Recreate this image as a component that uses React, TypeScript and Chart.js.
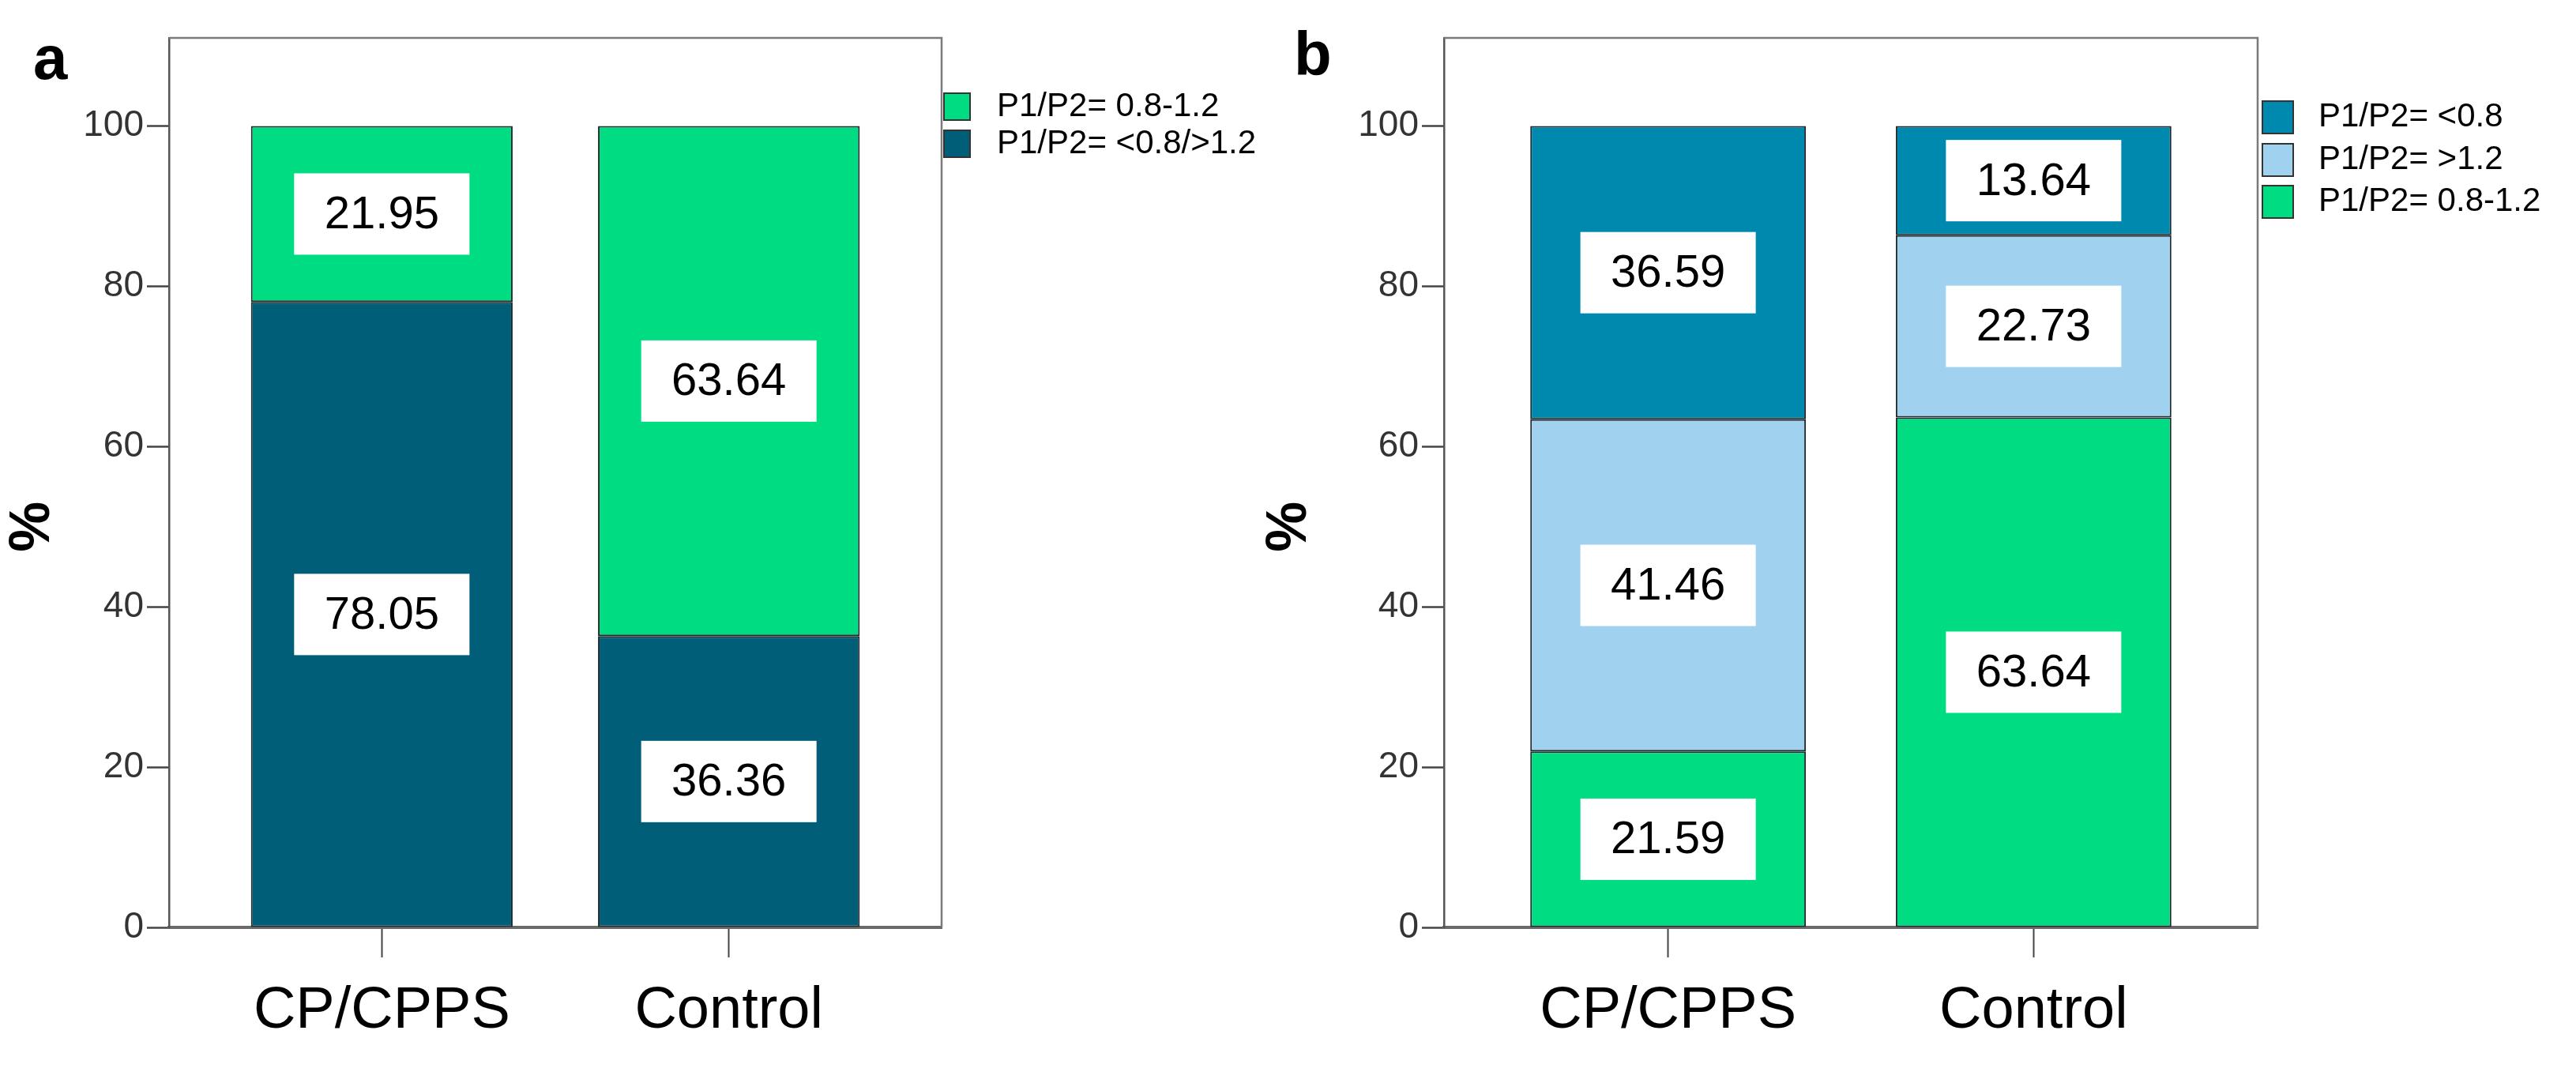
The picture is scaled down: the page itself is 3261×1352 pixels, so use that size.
import React, { useEffect, useRef } from 'react';
import { Chart, registerables } from 'chart.js';

Chart.register(...registerables);

// ---------- data ----------
const categories = ['CP/CPPS', 'Control'];
const yTickValues = [0, 20, 40, 60, 80, 100];
const yMax = 111;

// Panel a
const aOutsideName = 'P1/P2= <0.8/>1.2';
const aNormalName = 'P1/P2= 0.8-1.2';
const aOutside = [78.05, 36.36];
const aNormal = [21.95, 63.64];
const aOutsideLabels = ['78.05', '36.36'];
const aNormalLabels = ['21.95', '63.64'];

// Panel b
const bLowName = 'P1/P2= <0.8';
const bHighName = 'P1/P2= >1.2';
const bNormalName = 'P1/P2= 0.8-1.2';
const bNormal = [21.95, 63.64];
const bHigh = [41.46, 22.73];
const bLow = [36.59, 13.64];
const bNormalLabels = ['21.59', '63.64'];
const bHighLabels = ['41.46', '22.73'];
const bLowLabels = ['36.59', '13.64'];

// ---------- style ----------
const GREEN = '#00DC82';
const A_DARK = '#005E78';
const B_TEAL = '#0089AF';
const B_LIGHT = '#A0D2EF';
const FONT = "'Liberation Sans', Arial, Helvetica, sans-serif";

type LegendCfg = {
  items: { label: string; color: string }[];
  sqX: number;
  sqW: number;
  sqH: number;
  tops: number[];
  textX: number;
};

type DecorCfg = {
  labels: string[][];
  legend: LegendCfg;
  letter: string;
  letterX: number;
  letterY: number;
  pctX: number;
};

function makeDecor(cfg: DecorCfg) {
  return {
    id: 'decor',
    afterDatasetsDraw(chart: any) {
      const ctx = chart.ctx;
      ctx.save();
      chart.data.datasets.forEach((_: any, i: number) => {
        const meta = chart.getDatasetMeta(i);
        meta.data.forEach((el: any, j: number) => {
          const p = el.getProps(['x', 'y', 'base'], true);
          const cy = (p.y + p.base) / 2;
          const bw = 222;
          const bh = 103;
          ctx.fillStyle = '#ffffff';
          ctx.fillRect(p.x - bw / 2, cy - bh / 2, bw, bh);
          ctx.fillStyle = '#000000';
          ctx.font = `58px ${FONT}`;
          ctx.textAlign = 'center';
          ctx.textBaseline = 'middle';
          ctx.fillText(cfg.labels[i][j], p.x, cy + 2);
        });
      });
      ctx.restore();
    },
    afterDraw(chart: any) {
      const ctx = chart.ctx;
      const a = chart.chartArea;
      ctx.save();
      // frame top and right
      ctx.strokeStyle = '#7a7a7a';
      ctx.lineWidth = 2.5;
      ctx.beginPath();
      ctx.moveTo(a.left, a.top);
      ctx.lineTo(a.right, a.top);
      ctx.lineTo(a.right, a.bottom);
      ctx.stroke();

      // legend
      const lg = cfg.legend;
      lg.items.forEach((it, k) => {
        const top = lg.tops[k];
        ctx.fillStyle = it.color;
        ctx.fillRect(lg.sqX, top, lg.sqW, lg.sqH);
        ctx.strokeStyle = '#333333';
        ctx.lineWidth = 2;
        ctx.strokeRect(lg.sqX, top, lg.sqW, lg.sqH);
        ctx.fillStyle = '#000000';
        ctx.font = `42px ${FONT}`;
        ctx.textAlign = 'left';
        ctx.textBaseline = 'middle';
        ctx.fillText(it.label, lg.textX, top + lg.sqH / 2);
      });

      // panel letter
      ctx.fillStyle = '#000000';
      ctx.font = `bold 78px ${FONT}`;
      ctx.textAlign = 'left';
      ctx.textBaseline = 'alphabetic';
      ctx.fillText(cfg.letter, cfg.letterX, cfg.letterY);

      // y title "%"
      const ys = chart.scales.y;
      const cy = (ys.getPixelForValue(0) + ys.getPixelForValue(100)) / 2;
      ctx.translate(cfg.pctX, cy);
      ctx.rotate(-Math.PI / 2);
      ctx.font = `bold 72px ${FONT}`;
      ctx.textAlign = 'center';
      ctx.textBaseline = 'middle';
      ctx.fillText('%', 0, 0);
      ctx.restore();
    },
  };
}

function makeConfig(
  datasets: { label: string; values: number[]; color: string }[],
  yAxisWidth: number,
  padRight: number,
  decor: DecorCfg
): any {
  return {
    type: 'bar',
    data: {
      datasets: datasets.map((d) => ({
        label: d.label,
        data: categories.map((_, i) => ({ x: i, y: d.values[i] })),
        backgroundColor: d.color,
        borderColor: '#1e2b2f',
        borderWidth: 2,
        borderSkipped: false,
        categoryPercentage: 1,
        barPercentage: 0.754,
      })),
    },
    options: {
      animation: false,
      responsive: false,
      maintainAspectRatio: false,
      layout: { padding: { left: 0, top: 48, right: padRight, bottom: 0 } },
      plugins: { legend: { display: false }, tooltip: { enabled: false } },
      scales: {
        x: {
          type: 'linear',
          stacked: true,
          offset: false,
          min: -0.613,
          max: 1.613,
          afterBuildTicks: (s: any) => {
            s.ticks = categories.map((_, i) => ({ value: i }));
          },
          afterFit: (s: any) => {
            s.height = 178;
            s.paddingLeft = 0;
            s.paddingRight = 0;
          },
          ticks: {
            callback: (v: number) => categories[Math.round(v)] ?? '',
            font: { family: FONT, size: 74 },
            color: '#000000',
            padding: 24,
            maxRotation: 0,
            autoSkip: false,
          },
          grid: {
            display: true,
            offset: false,
            drawOnChartArea: false,
            drawTicks: true,
            tickLength: 38,
            tickColor: '#444444',
            tickWidth: 2,
          },
          border: { display: true, color: '#6a6a6a', width: 4 },
        },
        y: {
          stacked: true,
          min: 0,
          max: yMax,
          afterBuildTicks: (s: any) => {
            s.ticks = yTickValues.map((v) => ({ value: v }));
          },
          afterFit: (s: any) => {
            s.width = yAxisWidth;
            s.paddingTop = 0;
            s.paddingBottom = 0;
          },
          ticks: {
            font: { family: FONT, size: 46 },
            color: '#333333',
            padding: 4,
          },
          grid: {
            display: true,
            drawOnChartArea: false,
            drawTicks: true,
            tickLength: 28,
            tickColor: '#444444',
            tickWidth: 2.5,
          },
          border: { display: true, color: '#555555', width: 2.5 },
        },
      },
    },
    plugins: [makeDecor(decor)],
  };
}

export default function App() {
  const refA = useRef<HTMLCanvasElement>(null);
  const refB = useRef<HTMLCanvasElement>(null);

  useEffect(() => {
    const chartA = new Chart(
      refA.current as HTMLCanvasElement,
      makeConfig(
        [
          { label: aOutsideName, values: aOutside, color: A_DARK },
          { label: aNormalName, values: aNormal, color: GREEN },
        ],
        214,
        1640 - 1192,
        {
          labels: [aOutsideLabels, aNormalLabels],
          legend: {
            items: [
              { label: aNormalName, color: GREEN },
              { label: aOutsideName, color: A_DARK },
            ],
            sqX: 1195,
            sqW: 33,
            sqH: 34,
            tops: [118, 165],
            textX: 1262,
          },
          letter: 'a',
          letterX: 42,
          letterY: 100,
          pctX: 42,
        }
      )
    );
    const chartB = new Chart(
      refB.current as HTMLCanvasElement,
      makeConfig(
        [
          { label: bNormalName, values: bNormal, color: GREEN },
          { label: bHighName, values: bHigh, color: B_LIGHT },
          { label: bLowName, values: bLow, color: B_TEAL },
        ],
        268,
        1701 - 1298,
        {
          labels: [bNormalLabels, bHighLabels, bLowLabels],
          legend: {
            items: [
              { label: bLowName, color: B_TEAL },
              { label: bHighName, color: B_LIGHT },
              { label: bNormalName, color: GREEN },
            ],
            sqX: 1304,
            sqW: 39,
            sqH: 41,
            tops: [128, 182, 235],
            textX: 1375,
          },
          letter: 'b',
          letterX: 78,
          letterY: 95,
          pctX: 73,
        }
      )
    );
    return () => {
      chartA.destroy();
      chartB.destroy();
    };
  }, []);

  return (
    <div
      style={{
        position: 'absolute',
        left: 0,
        top: 0,
        width: 3261,
        height: 1352,
        background: '#ffffff',
        overflow: 'hidden',
      }}
    >
      <canvas
        ref={refA}
        width={1640}
        height={1352}
        style={{ position: 'absolute', left: 0, top: 0, width: 1640, height: 1352 }}
      />
      <canvas
        ref={refB}
        width={1701}
        height={1352}
        style={{ position: 'absolute', left: 1560, top: 0, width: 1701, height: 1352 }}
      />
    </div>
  );
}
